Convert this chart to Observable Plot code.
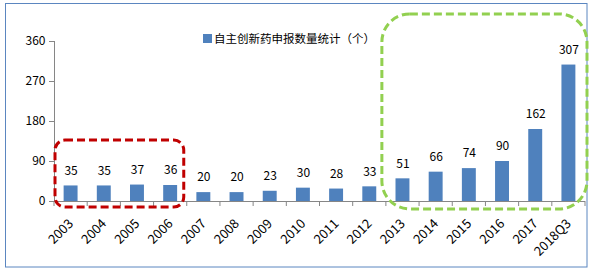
<!DOCTYPE html>
<html><head><meta charset="utf-8">
<script src="https://cdn.jsdelivr.net/npm/d3@7"></script>
<script src="https://cdn.jsdelivr.net/npm/@observablehq/plot@0.6"></script>
<style>
body{margin:0;background:#fff;}
#wrap{position:relative;width:595px;height:278px;}
#wrap svg{position:absolute;left:0;top:0;}
#legend{position:absolute;left:203px;top:30px;font:11.5px "Noto Sans CJK SC",sans-serif;color:#000;display:flex;align-items:center;white-space:nowrap;line-height:16px;}
#legend .sw{display:inline-block;width:9px;height:9px;background:#4F81BD;margin-right:2px;}
</style></head><body><div id="wrap"></div>
<script>
const years = ["2003","2004","2005","2006","2007","2008","2009","2010","2011","2012","2013","2014","2015","2016","2017","2018Q3"];
const counts = [35,35,37,36,20,20,23,30,28,33,51,66,74,90,162,307];
const yTicks = [0,90,180,270,360];
const seriesName = "自主创新药申报数量统计（个）";

const data = years.map((year, i) => ({year, count: counts[i]}));
const barColor = "#4F81BD";
const axisColor = "#868686";

const chart = Plot.plot({
  width: 595, height: 278,
  marginLeft: 54, marginRight: 10, marginTop: 41, marginBottom: 77,
  style: {fontFamily: '"Noto Sans CJK SC", sans-serif', fontSize: "12px", color: axisColor, background: "transparent", overflow: "visible"},
  x: {domain: years, paddingInner: 0.58, paddingOuter: 0.29, round: false, label: null, tickSize: 0, tickPadding: 20, tickRotate: -45},
  y: {domain: [0, 360], ticks: yTicks, tickSize: 5, tickPadding: 4, label: null, line: true},
  marks: [
    Plot.barY(data, {x: "year", y: "count", fill: barColor}),
    Plot.ruleY([0], {stroke: axisColor}),
    Plot.text(data, {x: "year", y: "count", text: d => String(d.count), dy: -15, fill: "#000", fontSize: 12})
  ]
});

const svg = d3.select(chart);
svg.selectAll('g[aria-label$="tick label"]').attr("fill", "#000");
svg.selectAll('g[aria-label="x-axis tick label"]').attr("font-size", 13);

const xs = chart.scale("x"), ys = chart.scale("y");
const step = xs.step, bw = xs.bandwidth;
const bandLeft = c => xs.apply(c) - (step - bw) / 2;
const y0 = ys.apply(0);

// tick marks at category boundaries
const bounds = years.map(bandLeft).concat([bandLeft(years[years.length - 1]) + step]);
svg.append("g").selectAll("line").data(bounds).join("line")
  .attr("x1", d => d).attr("x2", d => d).attr("y1", y0).attr("y2", y0 + 5)
  .attr("stroke", axisColor);

// outer border
svg.insert("rect", ":first-child")
  .attr("x", 5.5).attr("y", 3.5).attr("width", 581.5).attr("height", 263.5)
  .attr("fill", "none").attr("stroke", "#5B86C0").attr("stroke-width", 1);

// highlight boxes
const boxes = [
  {from: "2003", to: "2006", stroke: "#C00000", padL: -1, padR: -3, top: 137, padB: 6, r: 10},
  {from: "2013", to: "2018Q3", stroke: "#92D050", padL: 4, padR: 2, top: 421, padB: 8, r: 28}
];
svg.append("g").selectAll("rect").data(boxes).join("rect")
  .attr("x", b => bandLeft(b.from) - b.padL)
  .attr("width", b => bandLeft(b.to) + step + b.padR - (bandLeft(b.from) - b.padL))
  .attr("y", b => ys.apply(b.top))
  .attr("height", b => y0 + b.padB - ys.apply(b.top))
  .attr("rx", b => b.r).attr("ry", b => b.r)
  .attr("fill", "none").attr("stroke", b => b.stroke)
  .attr("stroke-width", 3).attr("stroke-dasharray", "8,4");

const wrap = document.getElementById("wrap");
wrap.appendChild(chart);
const legend = document.createElement("div");
legend.id = "legend";
legend.innerHTML = '<span class="sw"></span><span></span>';
legend.lastChild.textContent = seriesName;
wrap.appendChild(legend);
</script>
</body></html>
